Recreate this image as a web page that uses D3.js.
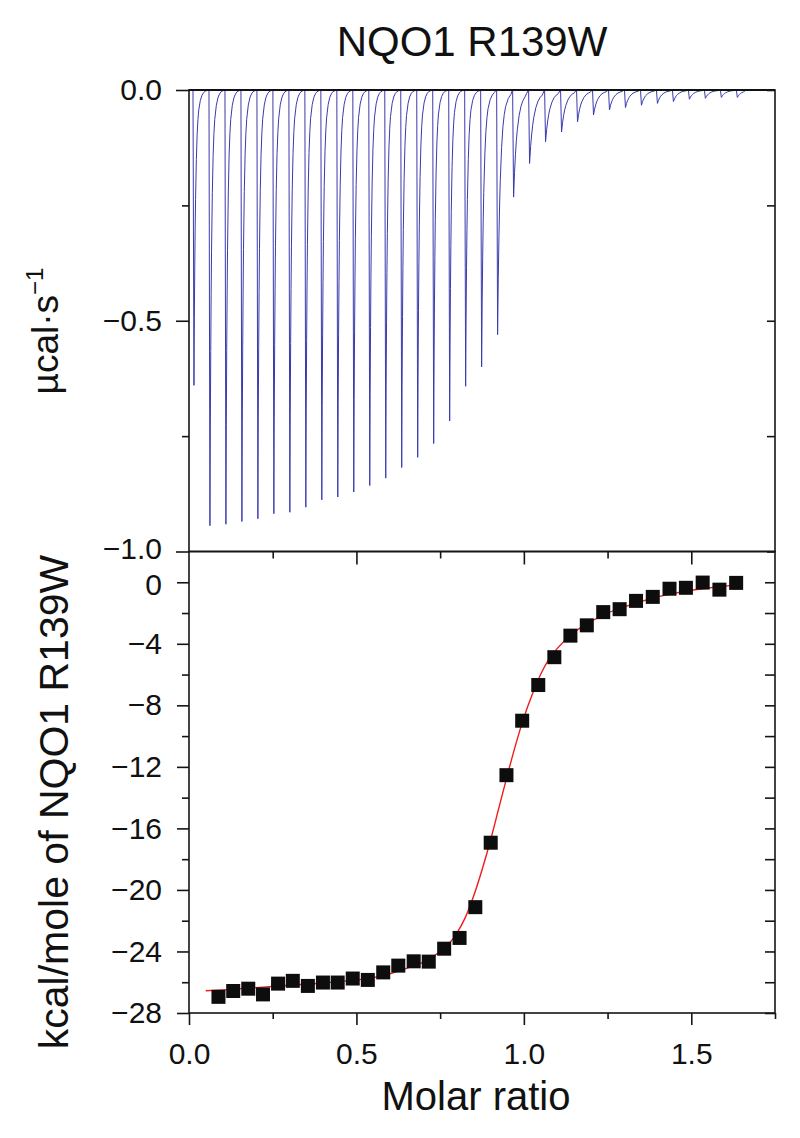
<!DOCTYPE html>
<html>
<head>
<meta charset="utf-8">
<script src="https://cdn.jsdelivr.net/npm/d3@7"></script>
<style>
	body { margin: 0; background: #fff; }
	text { font-family: "Liberation Sans", Arial, sans-serif; fill: #111; }
</style>
</head>
<body>
<svg></svg>
<script>
// raw thermogram: injection times (min), peak minima (ucal/s), recovery time constant (min)
var injTime = [0.75, 3.75, 6.75, 9.75, 12.75, 15.75, 18.75, 21.75, 24.75, 27.75,
	30.75, 33.75, 36.75, 39.75, 42.75, 45.75, 48.75, 51.75, 54.75, 57.75,
	60.75, 63.75, 66.75, 69.75, 72.75, 75.75, 78.75, 81.75, 84.75, 87.75,
	90.75, 93.75, 96.75, 99.75, 102.75];
var injPeak = [-0.64, -0.944, -0.941, -0.935, -0.929, -0.918, -0.915, -0.904, -0.888, -0.882,
	-0.871, -0.857, -0.841, -0.818, -0.796, -0.766, -0.717, -0.642, -0.6, -0.53,
	-0.232, -0.159, -0.112, -0.091, -0.069, -0.054, -0.043, -0.038, -0.033, -0.029,
	-0.025, -0.02, -0.018, -0.016, -0.016];
var injTau = [0.3, 0.3, 0.3, 0.3, 0.3, 0.3, 0.3, 0.3, 0.3, 0.3,
	0.3, 0.3, 0.3, 0.3, 0.3, 0.3, 0.3, 0.33, 0.4, 0.5,
	0.7, 0.8, 0.8, 0.8, 0.8, 0.8, 0.8, 0.8, 0.8, 0.8,
	0.8, 0.8, 0.8, 0.8, 0.8];
// hand-typed recovery profile used for each peak
var decayU = [0, 0.25, 0.5, 0.75, 1, 1.5, 2, 2.5, 3, 4, 5, 6, 7, 8];
var decayV = [1, 0.77, 0.6, 0.47, 0.37, 0.235, 0.15, 0.1, 0.068, 0.035, 0.018, 0.009, 0.004, 0.002];

// integrated heats
var ratioX = [0.088, 0.132, 0.177, 0.221, 0.266, 0.310, 0.355, 0.400, 0.444, 0.489,
	0.534, 0.580, 0.625, 0.671, 0.716, 0.762, 0.808, 0.855, 0.901, 0.948,
	0.995, 1.043, 1.091, 1.139, 1.188, 1.237, 1.286, 1.335, 1.385, 1.435,
	1.484, 1.534, 1.584, 1.634];
var heatY = [-26.95, -26.57, -26.42, -26.79, -26.09, -25.91, -26.24, -26.02, -26.02, -25.76,
	-25.85, -25.36, -24.92, -24.64, -24.66, -23.82, -23.12, -21.12, -16.93, -12.54,
	-9.0, -6.68, -4.87, -3.47, -2.8, -1.94, -1.75, -1.21, -0.95, -0.42,
	-0.36, -0.02, -0.48, -0.04];

// fitted curve
var fitX = [0.05, 0.1, 0.2, 0.3, 0.4, 0.5, 0.55, 0.6, 0.65, 0.7, 0.75, 0.78, 0.8, 0.825, 0.85,
	0.875, 0.9, 0.925, 0.95, 0.975, 1.0, 1.025, 1.05, 1.075, 1.1, 1.15, 1.2, 1.25, 1.3,
	1.35, 1.4, 1.45, 1.5, 1.55, 1.6, 1.64];
var fitY = [-26.55, -26.5, -26.35, -26.2, -26.05, -25.85, -25.7, -25.45, -25.1, -24.7, -24.0, -23.4,
	-22.8, -21.8, -20.4, -18.7, -16.8, -14.7, -12.6, -10.6, -8.8, -7.3, -6.0, -5.0, -4.3, -3.25,
	-2.55, -2.0, -1.6, -1.25, -0.95, -0.72, -0.52, -0.37, -0.25, -0.17];

var xMajor = [0, 0.5, 1.0, 1.5],
	xMinor = [0.25, 0.75, 1.25, 1.75];
var topMajor = [0, -0.5, -1.0],
	topMinor = [-0.25, -0.75];
var botMajor = [0, -4, -8, -12, -16, -20, -24, -28],
	botMinor = [-2, -6, -10, -14, -18, -22, -26];

var W = 800, H = 1138;
var left = 189, right = 775, top1 = 90, mid = 551.5, bottom = 1013;

var xScale = d3.scaleLinear().domain([0, 1.75]).range([left, right]);
var tScale = d3.scaleLinear().domain([0, 110]).range([left, right]);
var yTop = d3.scaleLinear().domain([-1, 0]).range([mid, top1]);
var yBot = d3.scaleLinear().domain([-28, 2]).range([bottom, mid]);

var svg = d3.select("svg").attr("width", W).attr("height", H);
svg.append("rect").attr("width", W).attr("height", H).attr("fill", "#fff");

// build the thermogram trace
var trace = [[0, 0]];
injTime.forEach(function(t0, i) {
	var tEnd = i < injTime.length - 1 ? injTime[i + 1] : 104.6;
	trace.push([t0, 0]);
	decayU.forEach(function(u, j) {
		var t = t0 + 0.18 + u * injTau[i];
		if (t < tEnd - 0.1) trace.push([t, injPeak[i] * decayV[j]]);
	});
	trace.push([tEnd - 0.05, 0]);
});

var traceLine = d3.line()
	.x(function(d) { return tScale(d[0]); })
	.y(function(d) { return yTop(d[1]); });

svg.append("path")
	.datum(trace)
	.attr("fill", "none")
	.attr("stroke", "#3a3aae")
	.attr("stroke-width", 1)
	.attr("d", traceLine);

// fit line
var fitData = fitX.map(function(x, i) { return [x, fitY[i]]; });
svg.append("path")
	.datum(fitData)
	.attr("fill", "none")
	.attr("stroke", "#ee1c1c")
	.attr("stroke-width", 1.4)
	.attr("d", d3.line()
		.curve(d3.curveMonotoneX)
		.x(function(d) { return xScale(d[0]); })
		.y(function(d) { return yBot(d[1]); }));

// heat points
var sq = 14;
svg.selectAll(".pt")
	.data(ratioX)
	.enter()
	.append("rect")
	.attr("class", "pt")
	.attr("x", function(d) { return xScale(d) - sq / 2; })
	.attr("y", function(d, i) { return yBot(heatY[i]) - sq / 2; })
	.attr("width", sq)
	.attr("height", sq)
	.attr("fill", "#0d0d0d");

// frames
[[top1, mid], [mid, bottom]].forEach(function(p) {
	svg.append("rect")
		.attr("x", left)
		.attr("y", p[0])
		.attr("width", right - left)
		.attr("height", p[1] - p[0])
		.attr("fill", "none")
		.attr("stroke", "#151515")
		.attr("stroke-width", 1.6);
});
svg.append("line")
	.attr("x1", left).attr("x2", right)
	.attr("y1", top1).attr("y2", top1)
	.attr("stroke", "#111").attr("stroke-width", 2.2);

function addAxis(gen, tx, ty, labels) {
	var g = svg.append("g")
		.attr("transform", "translate(" + tx + "," + ty + ")")
		.call(gen);
	g.select(".domain").remove();
	g.selectAll(".tick line").attr("stroke", "#151515").attr("stroke-width", 1.6);
	g.selectAll("text").attr("font-size", 30).attr("fill", "#111").style("font-family", null);
	if (!labels) g.selectAll("text").remove();
	return g;
}

// top panel ticks
var topLabels = addAxis(d3.axisLeft(yTop).tickValues(topMajor).tickSize(13).tickPadding(14)
	.tickFormat(d3.format(".1f")), left, 0, true);
// the -1.0 label sits a little above its tick, as in the original
topLabels.selectAll("text").filter(function(d) { return d === -1; }).attr("dy", "0.22em");
addAxis(d3.axisLeft(yTop).tickValues(topMinor).tickSize(7), left, 0, false);
addAxis(d3.axisLeft(yTop).tickValues(topMajor.concat(topMinor)).tickSize(8), right, 0, false);
addAxis(d3.axisBottom(xScale).tickValues(xMajor.slice(1)).tickSize(13), 0, mid, false);
addAxis(d3.axisBottom(xScale).tickValues(xMinor.slice(0, 3)).tickSize(7), 0, mid, false);

// bottom panel ticks
var botLabels = addAxis(d3.axisLeft(yBot).tickValues(botMajor).tickSize(12).tickPadding(15)
	.tickFormat(d3.format("d")), left, 0, true);
botLabels.selectAll("text").filter(function(d) { return d === 0; }).attr("dy", "0.42em");
addAxis(d3.axisLeft(yBot).tickValues(botMinor).tickSize(7), left, 0, false);
addAxis(d3.axisLeft(yBot).tickValues(botMajor.concat(botMinor)).tickSize(10), right, 0, false);
addAxis(d3.axisBottom(xScale).tickValues(xMajor).tickSize(12).tickPadding(18)
	.tickFormat(d3.format(".1f")), 0, bottom, true);
addAxis(d3.axisBottom(xScale).tickValues(xMinor).tickSize(6), 0, bottom, false);

// titles
svg.append("text")
	.attr("x", 472)
	.attr("y", 56)
	.attr("text-anchor", "middle")
	.attr("font-size", 42)
	.text("NQO1 R139W");

svg.append("text")
	.attr("x", 476)
	.attr("y", 1110)
	.attr("text-anchor", "middle")
	.attr("font-size", 40)
	.text("Molar ratio");

var yl1 = svg.append("text")
	.attr("transform", "translate(58,331) rotate(-90)")
	.attr("text-anchor", "middle")
	.attr("font-size", 37);
yl1.append("tspan").text("\u00b5cal\u00b7s");
yl1.append("tspan").attr("font-size", 24).attr("dy", -15).text("\u22121");

svg.append("text")
	.attr("transform", "translate(68,802) rotate(-90)")
	.attr("text-anchor", "middle")
	.attr("font-size", 41)
	.text("kcal/mole of NQO1 R139W");
</script>
</body>
</html>
